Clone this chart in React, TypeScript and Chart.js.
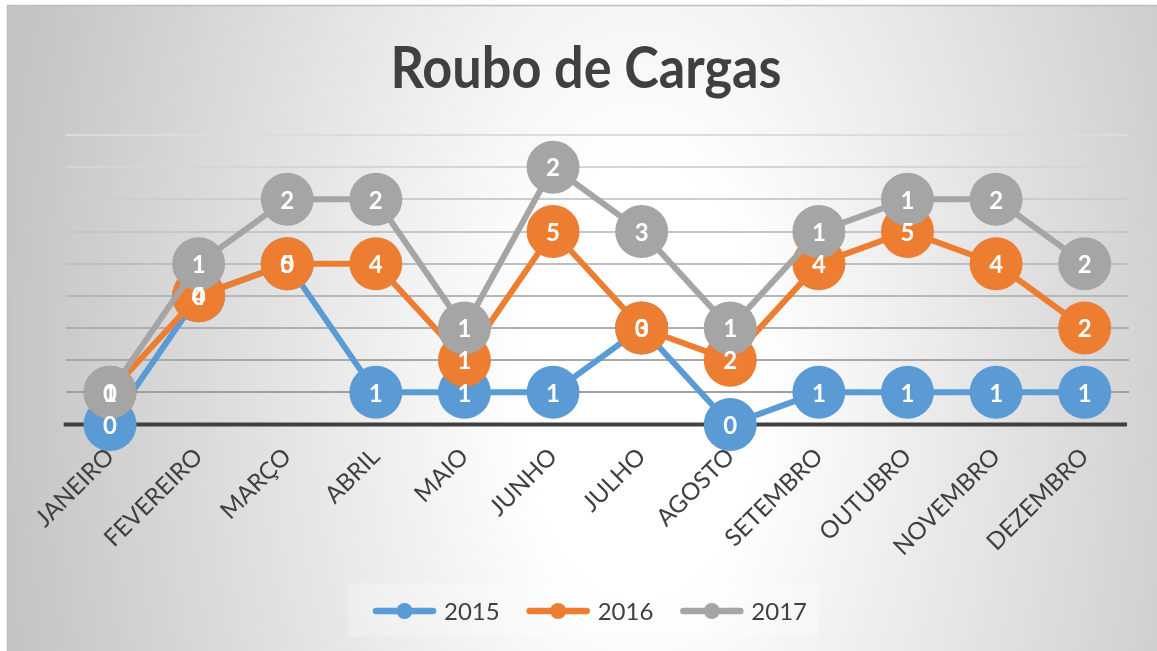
import React, { useEffect, useRef } from "react";
import { Chart, registerables } from "chart.js";

Chart.register(...registerables);

// ---- Data ----
const title = "Roubo de Cargas";
const months = ["JANEIRO", "FEVEREIRO", "MARÇO", "ABRIL", "MAIO", "JUNHO", "JULHO", "AGOSTO", "SETEMBRO", "OUTUBRO", "NOVEMBRO", "DEZEMBRO"];
const seriesNames = ["2015", "2016", "2017"];
const values2015 = [0, 4, 5, 1, 1, 1, 3, 0, 1, 1, 1, 1];
const values2016 = [1, 0, 0, 4, 1, 5, 0, 2, 4, 5, 4, 2];
const values2017 = [0, 1, 2, 2, 1, 2, 3, 1, 1, 1, 2, 2];
const yMin = 0;
const yMax = 9;

const seriesColors = ["#5B9BD5", "#ED7D31", "#A5A5A5"];
const FONT = "Lato, 'Open Sans', sans-serif";
const TEXT_COLOR = "#404040";

// stacked-line cumulative values (Excel stacked line chart)
const rawSeries = [values2015, values2016, values2017];
const stacked: number[][] = [];
rawSeries.forEach((arr, i) => {
  stacked.push(arr.map((v, j) => v + (i > 0 ? stacked[i - 1][j] : 0)));
});

const W = 1157;
const H = 651;

const backgroundPlugin = {
  id: "bgPlugin",
  beforeDraw(chart: any) {
    const ctx = chart.ctx as CanvasRenderingContext2D;
    ctx.save();
    ctx.fillStyle = "#ffffff";
    ctx.fillRect(0, 0, W, H);
    ctx.save();
    ctx.beginPath();
    ctx.rect(7.5, 5.5, W, H);
    ctx.clip();
    ctx.translate(640, 380);
    ctx.scale(1, 1.8);
    const g = ctx.createRadialGradient(0, 0, 0, 0, 0, 640);
    g.addColorStop(0, "#ffffff");
    g.addColorStop(0.18, "#ffffff");
    g.addColorStop(1, "#c4c4c4");
    ctx.fillStyle = g;
    ctx.fillRect(-3000, -3000, 6000, 6000);
    ctx.restore();
    ctx.strokeStyle = "#bdbdbd";
    ctx.lineWidth = 1.5;
    ctx.beginPath();
    ctx.moveTo(7.5, H);
    ctx.lineTo(7.5, 5.5);
    ctx.lineTo(W, 5.5);
    ctx.stroke();
    // legend backdrop
    ctx.fillStyle = "rgba(255,255,255,0.25)";
    ctx.fillRect(348, 583, 470, 54);
    ctx.restore();
  },
  beforeDatasetsDraw(chart: any) {
    const ctx = chart.ctx as CanvasRenderingContext2D;
    const y = chart.scales.y.getPixelForValue(0);
    const { left, right } = chart.chartArea;
    ctx.save();
    ctx.strokeStyle = "#404040";
    ctx.lineWidth = 4;
    ctx.beginPath();
    ctx.moveTo(left - 2, y);
    ctx.lineTo(right - 2, y);
    ctx.stroke();
    ctx.restore();
  },
  afterDatasetsDraw(chart: any) {
    const ctx = chart.ctx as CanvasRenderingContext2D;
    ctx.save();
    ctx.fillStyle = "#ffffff";
    ctx.font = `bold 24px ${FONT}`;
    ctx.textAlign = "center";
    ctx.textBaseline = "middle";
    rawSeries.forEach((arr, i) => {
      const meta = chart.getDatasetMeta(i);
      meta.data.forEach((pt: any, j: number) => {
        ctx.fillText(String(arr[j]), pt.x, pt.y + 1.5);
      });
    });
    ctx.restore();
  },
  afterDraw(chart: any) {
    const ctx = chart.ctx as CanvasRenderingContext2D;
    ctx.save();
    // title
    ctx.fillStyle = TEXT_COLOR;
    ctx.font = `bold 58px ${FONT}`;
    ctx.textAlign = "center";
    ctx.textBaseline = "alphabetic";
    ctx.save();
    ctx.translate(586, 88);
    ctx.scale(0.9, 1);
    ctx.fillText(title, 0, 0);
    ctx.restore();
    // legend
    ctx.font = `24px ${FONT}`;
    const lineW = 63;
    const gap = 8;
    const itemGap = 27;
    const widths = seriesNames.map((n) => ctx.measureText(n).width);
    const total = widths.reduce((a, w) => a + lineW + gap + w, 0) + itemGap * (seriesNames.length - 1);
    let x = 590 - total / 2;
    const ly = 611;
    seriesNames.forEach((name, i) => {
      ctx.strokeStyle = seriesColors[i];
      ctx.lineWidth = 6.5;
      ctx.lineCap = "round";
      ctx.beginPath();
      ctx.moveTo(x + 3, ly);
      ctx.lineTo(x + lineW - 3, ly);
      ctx.stroke();
      ctx.fillStyle = seriesColors[i];
      ctx.beginPath();
      ctx.arc(x + lineW / 2, ly, 8, 0, Math.PI * 2);
      ctx.fill();
      ctx.fillStyle = TEXT_COLOR;
      ctx.textAlign = "left";
      ctx.textBaseline = "middle";
      ctx.fillText(name, x + lineW + gap, ly + 1);
      x += lineW + gap + widths[i] + itemGap;
    });
    ctx.restore();
  },
};

function gridColor(v: number): string {
  if (v <= 0) return "rgba(0,0,0,0)";
  const t = (v - 1) / (yMax - 1);
  const level = Math.round(0xa0 + t * (0xdc - 0xa0));
  return `rgb(${level},${level},${level})`;
}

export default function App() {
  const ref = useRef<HTMLCanvasElement | null>(null);

  useEffect(() => {
    if (!ref.current) return;
    const chart = new Chart(ref.current, {
      type: "line",
      data: {
        labels: months,
        datasets: seriesNames.map((name, i) => ({
          label: name,
          data: stacked[i],
          borderColor: seriesColors[i],
          backgroundColor: seriesColors[i],
          pointBackgroundColor: seriesColors[i],
          pointBorderWidth: 0,
          pointRadius: 26.5,
          pointHoverRadius: 26.5,
          borderWidth: 6,
          tension: 0,
          fill: false,
          clip: false as any,
          order: seriesNames.length - i,
        })),
      },
      options: {
        animation: false,
        responsive: false,
        maintainAspectRatio: false,
        events: [],
        layout: { padding: { left: 65.7, right: 28, top: 135, bottom: 0 } },
        plugins: {
          legend: { display: false },
          title: { display: false },
          tooltip: { enabled: false },
        },
        scales: {
          x: {
            offset: true,
            grid: { display: false, drawTicks: false },
            border: { display: false },
            ticks: {
              autoSkip: false,
              maxRotation: 45,
              minRotation: 45,
              padding: 18,
              color: TEXT_COLOR,
              font: { family: FONT, size: 24 },
            },
            afterFit: (s: any) => {
              s.height = H - 424.5;
            },
          },
          y: {
            min: yMin,
            max: yMax,
            ticks: { display: false, stepSize: 1 },
            border: { display: false },
            grid: {
              drawTicks: false,
              lineWidth: 2,
              color: (ctx: any) => gridColor(ctx.tick ? ctx.tick.value : 0),
            },
            afterFit: (s: any) => {
              s.width = 0;
            },
          },
        },
      },
      plugins: [backgroundPlugin],
    });
    return () => chart.destroy();
  }, []);

  return (
    <div style={{ position: "fixed", left: 0, top: 0, width: W, height: H }}>
      <canvas ref={ref} width={W} height={H} style={{ width: W, height: H, display: "block" }} />
    </div>
  );
}
